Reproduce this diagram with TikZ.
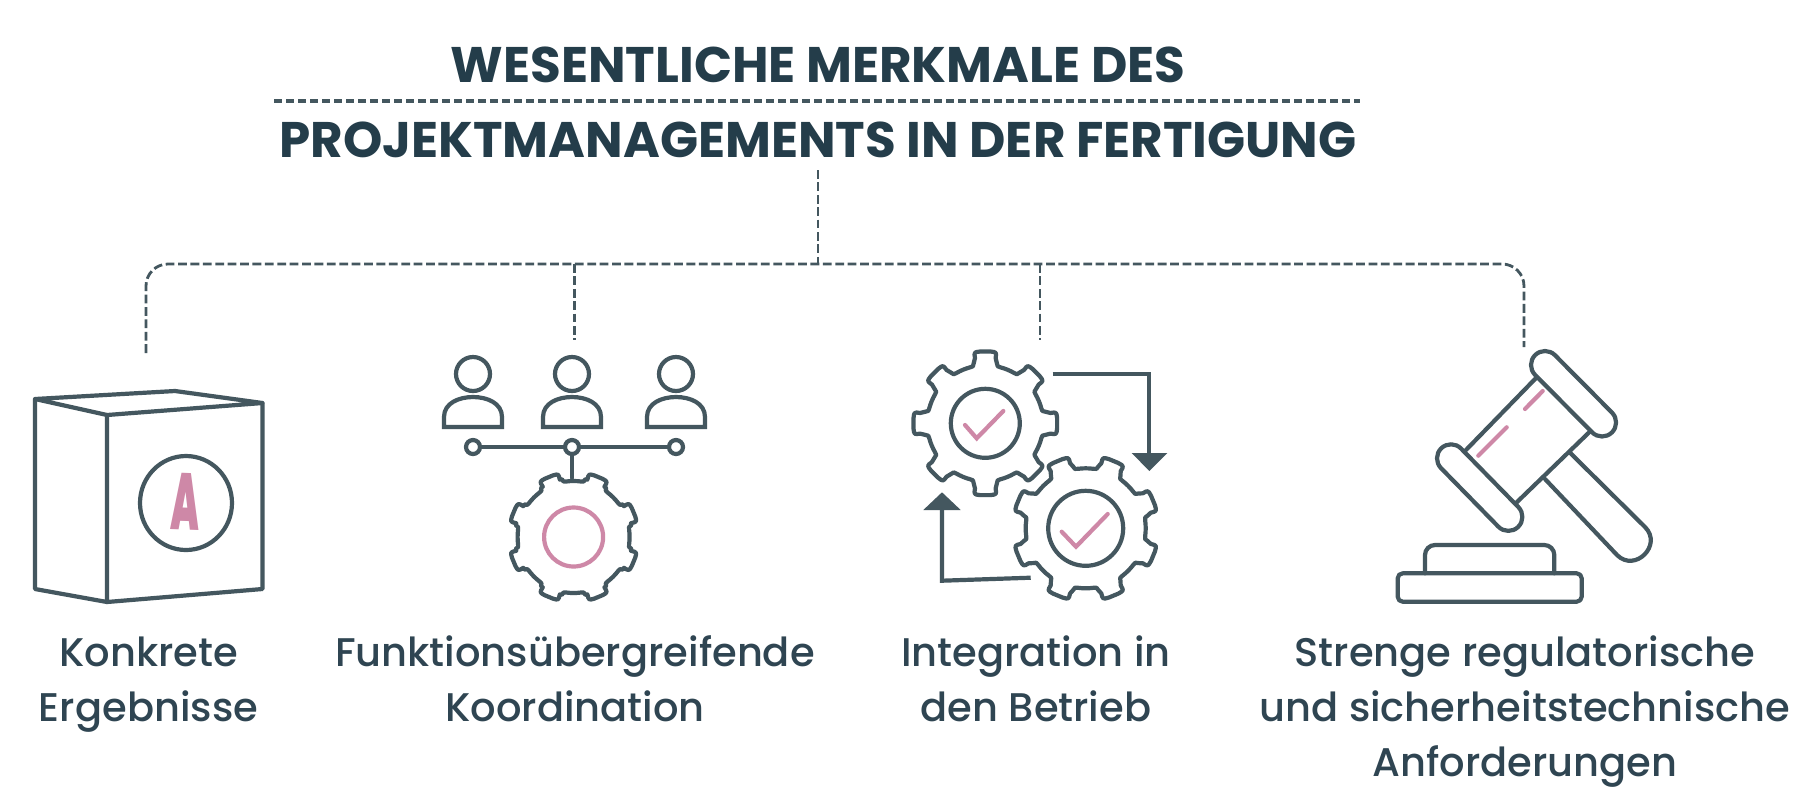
\documentclass[tikz,border=0pt]{standalone}
\usepackage{fontspec}
\setmainfont{Poppins}
\newfontfamily\titlefont{Poppins}[UprightFont=*-Bold,BoldFont=*-Bold]
\newfontfamily\labelfont{Poppins}[UprightFont=*-Medium]
\newfontfamily\letterfont{Poppins}[UprightFont=*-Black]
\definecolor{iconc}{HTML}{44575F}
\definecolor{pinkc}{HTML}{CE88A7}
\definecolor{titlec}{HTML}{243D4A}
\definecolor{labelc}{HTML}{2F4552}
\tikzset{
  icon/.style={draw=iconc,line width=2.1pt,line join=round,line cap=round},
  pinkline/.style={draw=pinkc,line width=2.1pt,line cap=round,line join=miter},
  dashline/.style={draw=iconc,line width=1.4pt,dash pattern=on 4.4pt off 1.8pt},
  ruleline/.style={draw=iconc,line width=1.7pt,dash pattern=on 4pt off 2pt},
  titletext/.style={font=\titlefont\fontsize{25}{30}\selectfont,text=titlec,inner sep=0pt,anchor=base},
  labeltext/.style={font=\labelfont\fontsize{20}{27.5}\selectfont,text=labelc,inner sep=0pt,anchor=base,align=center},
  filledhead/.style={fill=iconc,draw=none},
}
\newcommand\gearicon[5]{%
  \draw[icon,shift={(#1,#2)}] ({#5-11}:{#4+3})
  \foreach \a in {0,45,...,315} {
    -- ({#5+\a-9}:{#3-6}) .. controls ({#5+\a-9}:#3) .. ({#5+\a-4}:#3)
    -- ({#5+\a+4}:#3) .. controls ({#5+\a+9}:#3) .. ({#5+\a+9}:{#3-6})
    -- ({#5+\a+11}:{#4+3}) .. controls ({#5+\a+12}:#4) .. ({#5+\a+15}:#4)
    .. controls ({#5+\a+20}:{#4*1.0038}) and ({#5+\a+25}:{#4*1.0038}) .. ({#5+\a+30}:#4)
    .. controls ({#5+\a+33}:#4) .. ({#5+\a+34}:{#4+3})
  } -- cycle;}
\newcommand\personicon[1]{%
  \draw[icon] (#1,374) ellipse [x radius=17,y radius=17];
  \draw[icon,line join=miter] (#1-29,427) -- (#1-29,417) .. controls (#1-29,403) and (#1-14,397) .. (#1,397)
     .. controls (#1+14,397) and (#1+29,403) .. (#1+29,417) -- (#1+29,427) -- cycle;}
\begin{document}
\begin{tikzpicture}[x=0.5pt,y=-0.5pt]
\useasboundingbox[fill=white] (0,0) rectangle (1800,800);
% title
\node[titletext] (t1) at (818,82) {WESENTLICHE MERKMALE DES};
\node[titletext] (t2) at (818,157) {PROJEKTMANAGEMENTS IN DER FERTIGUNG};
\coordinate (ruleL) at (274,101);
\coordinate (ruleR) at (1360,101);
\draw[ruleline] (ruleL) -- (ruleR);
% connector tree
\coordinate (root) at (818,170);
\coordinate (junction) at (818,264);
\coordinate (busL) at (146,264);
\coordinate (busR) at (1524,264);
\coordinate (dropA) at (146,353);
\coordinate (dropB) at (574.6,340);
\coordinate (dropC) at (1040,340);
\coordinate (dropD) at (1524,347);
\draw[dashline] (root) -- (junction);
\draw[dashline,rounded corners=11pt] (dropA) -- (busL) -- (busR) -- (dropD);
\draw[dashline] (574.6,264) -- (dropB);
\draw[dashline] (1040,264) -- (dropC);
% box icon
\draw[icon] (35,399) -- (175,391) -- (262.5,403) -- (107,415) -- cycle;
\draw[icon] (35,399) -- (35,589) -- (107,602) -- (107,415);
\draw[icon] (262.5,403) -- (262.5,589) -- (107,602);
\draw[icon] (186,503) ellipse [x radius=46,y radius=47];
\node[inner sep=0pt,text=pinkc,font=\letterfont\fontsize{40}{40}\selectfont,rotate=-2] (letterA) at (186,502) {\scalebox{0.46}[1]{A}};
% people icon
\personicon{473}\personicon{572}\personicon{676}
\draw[icon] (480.5,447) -- (564.5,447);
\draw[icon] (579.5,447) -- (668.5,447);
\draw[icon] (473,447) circle [radius=7];
\draw[icon] (572,447) circle [radius=7];
\draw[icon] (676,447) circle [radius=7];
\draw[icon] (572,454) -- (572,478);
\gearicon{573.6}{537}{65}{56}{22.5}
\draw[pinkline] (573.6,537) circle [radius=29.5];
% gears icon
\gearicon{985.3}{423.3}{72}{58}{0}
\draw[icon] (985.3,423.3) circle [radius=34.5];
\draw[pinkline] (965,425) -- (976.7,438.3) -- (1003.3,411);
\gearicon{1085.7}{528.3}{73}{60}{22.5}
\draw[icon] (1085.7,528.3) circle [radius=37.5];
\draw[pinkline] (1061.7,531.7) -- (1076,546.7) -- (1107.7,514);
\draw[icon,line cap=butt,line join=miter] (1052.7,374.3) -- (1149.3,374.3) -- (1149.3,455);
\fill[filledhead] (1131.7,453) -- (1167.3,453) -- (1149.3,471) -- cycle;
\draw[icon,line cap=butt,line join=miter] (1030.7,577.7) -- (942,580.7) -- (942,508);
\fill[filledhead] (923.3,510) -- (960.7,510) -- (942,492.3) -- cycle;
% gavel icon
\draw[icon] (1536,378) -- (1465,451);
\draw[icon] (1516,503) -- (1590,431.5);
\draw[icon,rotate around={-45.2:(1545,365)}] (1545,351) -- (1626,351) arc[start angle=-90,end angle=90,radius=14] -- (1545,379) arc[start angle=90,end angle=270,radius=14] -- cycle;
\draw[icon,rotate around={-45.6:(1451,458.3)}] (1451,444.3) -- (1533,444.3) arc[start angle=-90,end angle=90,radius=14] -- (1451,472.3) arc[start angle=90,end angle=270,radius=14] -- cycle;
\draw[icon] (1570,452.7) -- (1645,527) .. controls (1663,545) and (1635,573) .. (1617,555) -- (1545,479);
\draw[pinkline] (1542.7,391) -- (1525,409);
\draw[pinkline] (1506.7,427.3) -- (1478.3,455.7);
\draw[icon,rounded corners=5pt] (1425,573.3) -- (1425,545) -- (1554.3,545) -- (1554.3,573.3);
\draw[icon,rounded corners=2.5pt] (1397.7,573.3) rectangle (1581.7,601.7);
% labels
\node[labeltext] (lab1) at (148.5,721) {Konkrete\\Ergebnisse};
\node[labeltext] (lab2) at (575,721) {Funktionsübergreifende\\Koordination};
\node[labeltext] (lab3) at (1036,721) {Integration in\\den Betrieb};
\node[labeltext] (lab4) at (1525,776) {Strenge regulatorische\\und sicherheitstechnische\\Anforderungen};
\end{tikzpicture}
\end{document}
